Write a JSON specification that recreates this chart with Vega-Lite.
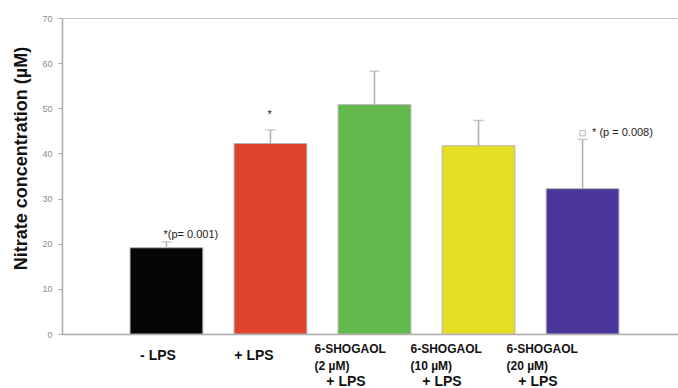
{
  "$schema": "https://vega.github.io/schema/vega-lite/v6.json",
  "width": 625,
  "height": 316,
  "autosize": {"type": "none"},
  "padding": {"left": 62, "top": 18, "right": 0, "bottom": 54},
  "config": {"font": "Liberation Sans", "view": {"stroke": "#c8c8c8"}},
  "datasets": {
    "bars": [
      {"cat": "- LPS", "value": 19.1, "upper": 20.4},
      {"cat": "+ LPS", "value": 42.2, "upper": 45.2},
      {"cat": "6-SHOGAOL (2 µM) + LPS", "value": 50.8, "upper": 58.2},
      {"cat": "6-SHOGAOL (10 µM) + LPS", "value": 41.7, "upper": 47.3},
      {"cat": "6-SHOGAOL (20 µM) + LPS", "value": 32.2, "upper": 43.1}
    ],
    "notes": [
      {"cat": "- LPS", "y": 21.9, "note": "*(p= 0.001)", "kind": "left"},
      {"cat": "+ LPS", "y": 48.6, "note": "*", "kind": "star"},
      {"cat": "6-SHOGAOL (20 µM) + LPS", "y": 44.5, "note": "* (p = 0.008)", "kind": "right"}
    ],
    "labels": [
      {"cat": "- LPS", "line": "single", "text": "- LPS"},
      {"cat": "+ LPS", "line": "single", "text": "+ LPS"},
      {"cat": "6-SHOGAOL (2 µM) + LPS", "line": "top", "text": "6-SHOGAOL"},
      {"cat": "6-SHOGAOL (2 µM) + LPS", "line": "mid", "text": "(2 µM)"},
      {"cat": "6-SHOGAOL (2 µM) + LPS", "line": "bottom", "text": "+ LPS"},
      {"cat": "6-SHOGAOL (10 µM) + LPS", "line": "top", "text": "6-SHOGAOL"},
      {"cat": "6-SHOGAOL (10 µM) + LPS", "line": "mid", "text": "(10 µM)"},
      {"cat": "6-SHOGAOL (10 µM) + LPS", "line": "bottom", "text": "+ LPS"},
      {"cat": "6-SHOGAOL (20 µM) + LPS", "line": "top", "text": "6-SHOGAOL"},
      {"cat": "6-SHOGAOL (20 µM) + LPS", "line": "mid", "text": "(20 µM)"},
      {"cat": "6-SHOGAOL (20 µM) + LPS", "line": "bottom", "text": "+ LPS"}
    ]
  },
  "layer": [
    {
      "layer": [
        {
          "data": {"name": "bars"},
          "mark": {"type": "bar", "stroke": "#b5b5b5", "strokeWidth": 1},
          "encoding": {
            "x": {"field": "cat", "type": "nominal", "sort": null,
              "scale": {"domain": ["- LPS", "+ LPS", "6-SHOGAOL (2 µM) + LPS", "6-SHOGAOL (10 µM) + LPS", "6-SHOGAOL (20 µM) + LPS"], "paddingInner": 0.3, "paddingOuter": 0.654},
              "axis": {"labels": false, "ticks": false, "title": null, "domainColor": "#aaaaaa", "domainWidth": 1.5}},
            "y": {"field": "value", "type": "quantitative",
              "scale": {"domain": [0, 70], "nice": false},
              "axis": {"values": [0, 10, 20, 30, 40, 50, 60, 70], "grid": false, "domainColor": "#aaaaaa", "domainWidth": 1.5, "tickColor": "#aaaaaa", "tickSize": 4, "labelColor": "#8a8a8a", "labelFontSize": 9, "labelPadding": 6, "title": "Nitrate concentration (µM)", "titleFontSize": 18, "titleFontWeight": "bold", "titleColor": "#111111", "titlePadding": 11, "titleY": 140}},
            "color": {"field": "cat", "type": "nominal", "sort": null,
              "scale": {"domain": ["- LPS", "+ LPS", "6-SHOGAOL (2 µM) + LPS", "6-SHOGAOL (10 µM) + LPS", "6-SHOGAOL (20 µM) + LPS"], "range": ["#050505", "#e0432b", "#62b94b", "#e4df22", "#4b379b"]},
              "legend": null}
          }
        },
        {
          "data": {"name": "bars"},
          "mark": {"type": "rule", "color": "#b0b0b0", "strokeWidth": 1.5},
          "encoding": {
            "x": {"field": "cat", "type": "nominal", "sort": null},
            "y": {"field": "value", "type": "quantitative"},
            "y2": {"field": "upper"}
          }
        },
        {
          "data": {"name": "bars"},
          "mark": {"type": "tick", "color": "#b0b0b0", "thickness": 1.5, "size": 10},
          "encoding": {
            "x": {"field": "cat", "type": "nominal", "sort": null},
            "y": {"field": "upper", "type": "quantitative"}
          }
        },
        {
          "data": {"name": "notes"},
          "transform": [{"filter": "datum.kind != 'right'"}],
          "mark": {"type": "text", "align": "left", "baseline": "middle", "dx": -3, "fontSize": 11, "color": "#222222"},
          "encoding": {
            "x": {"field": "cat", "type": "nominal", "sort": null},
            "y": {"field": "y", "type": "quantitative"},
            "text": {"field": "note"}
          }
        },
        {
          "data": {"name": "notes"},
          "transform": [{"filter": "datum.kind == 'right'"}],
          "mark": {"type": "point", "shape": "square", "size": 30, "stroke": "#999999", "strokeWidth": 1, "fill": "#ffffff", "filled": false},
          "encoding": {
            "x": {"field": "cat", "type": "nominal", "sort": null},
            "y": {"field": "y", "type": "quantitative"}
          }
        },
        {
          "data": {"name": "notes"},
          "transform": [{"filter": "datum.kind == 'right'"}],
          "mark": {"type": "text", "align": "left", "baseline": "middle", "dx": 9.5, "fontSize": 11, "color": "#222222"},
          "encoding": {
            "x": {"field": "cat", "type": "nominal", "sort": null},
            "y": {"field": "y", "type": "quantitative"},
            "text": {"field": "note"}
          }
        }
      ]
    },
    {
      "data": {"name": "labels"},
      "layer": [
        {
          "transform": [{"filter": "datum.line == 'single'"}],
          "mark": {"type": "text", "align": "center", "baseline": "alphabetic", "dy": 26, "fontSize": 14, "fontWeight": "bold", "color": "#111111"},
          "encoding": {
            "x": {"field": "cat", "type": "nominal", "sort": null,
              "scale": {"type": "band", "domain": ["- LPS", "+ LPS", "6-SHOGAOL (2 µM) + LPS", "6-SHOGAOL (10 µM) + LPS", "6-SHOGAOL (20 µM) + LPS"], "paddingInner": 0, "paddingOuter": 0.755, "align": 0.331},
              "axis": null},
            "y": {"datum": 0, "type": "quantitative"},
            "text": {"field": "text"}
          }
        },
        {
          "transform": [{"filter": "datum.line == 'top'"}],
          "mark": {"type": "text", "align": "left", "baseline": "alphabetic", "dx": -35.5, "dy": 19, "fontSize": 12, "fontWeight": "bold", "color": "#111111"},
          "encoding": {
            "x": {"field": "cat", "type": "nominal", "sort": null},
            "y": {"datum": 0, "type": "quantitative"},
            "text": {"field": "text"}
          }
        },
        {
          "transform": [{"filter": "datum.line == 'mid'"}],
          "mark": {"type": "text", "align": "left", "baseline": "alphabetic", "dx": -35.5, "dy": 35.5, "fontSize": 12, "fontWeight": "bold", "color": "#111111"},
          "encoding": {
            "x": {"field": "cat", "type": "nominal", "sort": null},
            "y": {"datum": 0, "type": "quantitative"},
            "text": {"field": "text"}
          }
        },
        {
          "transform": [{"filter": "datum.line == 'bottom'"}],
          "mark": {"type": "text", "align": "center", "baseline": "alphabetic", "dx": -4, "dy": 51.5, "fontSize": 14, "fontWeight": "bold", "color": "#111111"},
          "encoding": {
            "x": {"field": "cat", "type": "nominal", "sort": null},
            "y": {"datum": 0, "type": "quantitative"},
            "text": {"field": "text"}
          }
        }
      ]
    }
  ],
  "resolve": {"scale": {"x": "independent"}}
}
